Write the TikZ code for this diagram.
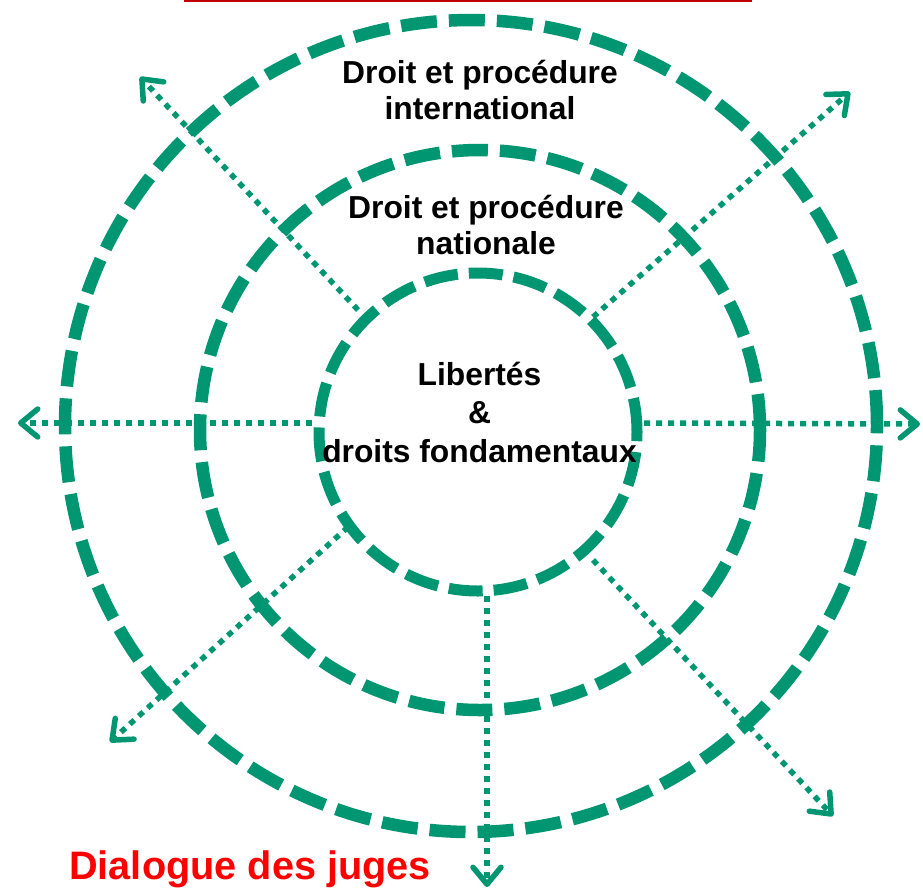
\documentclass[tikz,border=0pt]{standalone}
\usepackage{fontspec}
\setmainfont{Liberation Sans}
\usetikzlibrary{arrows.meta}
\definecolor{ringgreen}{RGB}{0,150,114}
\definecolor{titlered}{RGB}{192,0,0}
\definecolor{labelred}{RGB}{255,0,0}
\begin{document}
\begin{tikzpicture}[x=1pt,y=-1pt,
  ring/.style={circle, draw=ringgreen, line width=12.5pt, dash pattern=on 36pt off 12pt, inner sep=0pt},
  ray/.style={draw=ringgreen, line width=5.5pt, dash pattern=on 6pt off 6pt,
    -{Straight Barb[length=17pt,width=28pt,line width=5.5pt,round]}},
  lbl/.style={font=\bfseries\fontsize{31.8}{36}\selectfont, align=center, anchor=base, inner sep=0pt}]
\useasboundingbox (0,0) rectangle (923,889);
% title rule
\coordinate (r1) at (184,1.2);
\coordinate (r2) at (752,1.2);
\draw[titlered, line width=2.5pt] (r1) -- (r2);
% rings
\node[ring, minimum size=812pt] (outer) at (471,426) {};
\node[ring, minimum size=560pt] (middle) at (480,430) {};
\node[ring, line width=11pt, dash pattern=on 34pt off 11pt, minimum size=318pt] (inner) at (478,432) {};
% ray ends
\coordinate (sW) at (312,423);  \coordinate (tW) at (18,423);
\coordinate (sE) at (644,423);  \coordinate (tE) at (920,424);
\coordinate (sNW) at (358,310); \coordinate (tNW) at (140,77);
\coordinate (sNE) at (593,317); \coordinate (tNE) at (850,92);
\coordinate (sSW) at (348,527); \coordinate (tSW) at (110,742);
\coordinate (sSE) at (593,560); \coordinate (tSE) at (833,816);
\coordinate (sS) at (487,596);  \coordinate (tS) at (487,887);
\foreach \d in {W,E,NW,NE,SW,SE,S}{
  \draw[ray] (s\d) -- (t\d);
}
% labels (base = last line's baseline)
\node[lbl] (intl) at (480,119) {Droit et procédure\\international};
\node[lbl] (natl) at (486,254) {Droit et procédure\\nationale};
\node[lbl, font=\bfseries\fontsize{31.8}{38.5}\selectfont] (fund) at (479.5,462) {Libertés\\\&\\droits fondamentaux};
\node[font=\bfseries\fontsize{39.7}{44}\selectfont, text=labelred, anchor=base west, inner sep=0pt] (dlg) at (69,879) {Dialogue des juges};
\end{tikzpicture}
\end{document}
